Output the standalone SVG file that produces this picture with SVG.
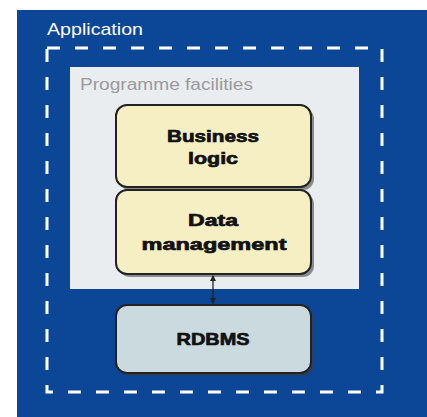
<svg xmlns="http://www.w3.org/2000/svg" width="427" height="417" viewBox="0 0 427 417">
  <style>
    .title { font-family: "Liberation Sans", Arial, sans-serif; font-size: 17px; fill: #ffffff; }
    .sub { font-family: "Liberation Sans", Arial, sans-serif; font-size: 16px; fill: #9a9a9e; }
    .label { font-family: "Liberation Sans", Arial, sans-serif; font-size: 17px; font-weight: bold; fill: #111111; stroke: #111111; stroke-width: 0.7; text-anchor: middle; }
    .box { stroke: #222222; stroke-width: 2; }
    .shadow { fill: #3a3a3a; opacity: 0.55; }
    .link { stroke: #222222; stroke-width: 1.3; fill: none; }
  </style>
  <defs>
    <marker id="tip" viewBox="0 0 6 6" refX="5" refY="3" markerWidth="5" markerHeight="5" orient="auto-start-reverse">
      <path d="M0,0 L6,3 L0,6 z" fill="#222222"/>
    </marker>
  </defs>

  <!-- page -->
  <rect width="427" height="417" fill="#ffffff"/>

  <g id="application">
    <rect x="17" y="10" width="410" height="407" fill="#0c4797"/>
    <rect x="47" y="48" width="335" height="344" fill="none" stroke="#ffffff" stroke-width="3" stroke-dasharray="13 15"/>
    <text class="title" x="47" y="35" textLength="96" lengthAdjust="spacingAndGlyphs">Application</text>
  </g>

  <g id="programme-facilities">
    <rect x="70" y="67" width="289" height="222" fill="#eaedef"/>
    <text class="sub" x="80" y="90" textLength="173" lengthAdjust="spacingAndGlyphs">Programme facilities</text>
  </g>

  <g id="business-logic">
    <rect class="shadow" x="119" y="108" width="195" height="82" rx="11"/>
    <rect class="box" x="116" y="105" width="195" height="82" rx="11" fill="#f6efc4"/>
    <text class="label" x="213" y="142" textLength="92" lengthAdjust="spacingAndGlyphs">Business</text>
    <text class="label" x="213" y="164" textLength="50" lengthAdjust="spacingAndGlyphs">logic</text>
  </g>

  <g id="data-management">
    <rect class="shadow" x="119" y="193" width="195" height="84" rx="11"/>
    <rect class="box" x="116" y="190" width="195" height="84" rx="11" fill="#f6efc4"/>
    <text class="label" x="213" y="226" textLength="50" lengthAdjust="spacingAndGlyphs">Data</text>
    <text class="label" x="214" y="250" textLength="145" lengthAdjust="spacingAndGlyphs">management</text>
  </g>

  <g id="rdbms">
    <rect class="shadow" x="119" y="308" width="195" height="68" rx="11"/>
    <rect class="box" x="116" y="305" width="195" height="68" rx="11" fill="#cbdadf"/>
    <text class="label" x="213" y="345" textLength="73" lengthAdjust="spacingAndGlyphs">RDBMS</text>
  </g>

  <g id="connectors">
    <line class="link" x1="213" y1="276" x2="213" y2="303" marker-start="url(#tip)" marker-end="url(#tip)"/>
  </g>
</svg>
